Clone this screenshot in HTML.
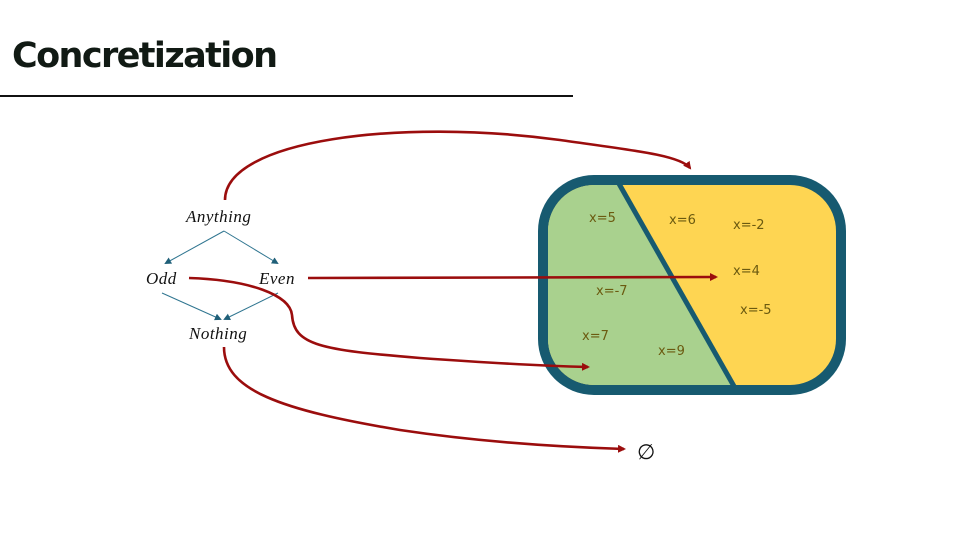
<!DOCTYPE html>
<html><head><meta charset="utf-8"><style>
html,body{margin:0;padding:0;background:#fff;width:960px;height:540px;overflow:hidden}
svg{display:block}
.t{font-family:"Liberation Serif",serif;font-style:italic;font-size:17px;fill:#111;letter-spacing:0.5px}
.v{font-family:"DejaVu Sans","Liberation Sans",sans-serif;font-size:13px;fill:#6b5a10}
</style></head><body>
<svg width="960" height="540" viewBox="0 0 960 540">
<defs>
<marker id="ra" markerWidth="8" markerHeight="8" refX="6" refY="4" orient="auto" markerUnits="userSpaceOnUse"><path d="M0,0 L8,4 L0,8 z" fill="#9b0d0d"/></marker>
<marker id="ba" markerWidth="7" markerHeight="7" refX="5" refY="3.5" orient="auto" markerUnits="userSpaceOnUse"><path d="M0,0 L7,3.5 L0,7 z" fill="#1f5f78"/></marker>
<clipPath id="inner"><rect x="548" y="185" width="288" height="200" rx="46"/></clipPath>
</defs>
<text x="12" y="67" font-family="DejaVu Sans, Liberation Sans, sans-serif" font-weight="bold" font-size="35" fill="#111a14" letter-spacing="-1.6">Concretization</text>
<rect x="0" y="95" width="573" height="2" fill="#111"/>

<rect x="538" y="175" width="308" height="220" rx="56" fill="#175a70"/>
<g clip-path="url(#inner)">
<rect x="548" y="185" width="288" height="200" fill="#fed552"/>
<polygon points="548,185 617,185 734,386 548,386" fill="#a9d18e"/>
<line x1="618" y1="182" x2="735" y2="388" stroke="#175a70" stroke-width="5"/>
</g>
<text class="v" x="589" y="222">x=5</text>
<text class="v" x="669" y="224">x=6</text>
<text class="v" x="733" y="229">x=-2</text>
<text class="v" x="733" y="275">x=4</text>
<text class="v" x="596" y="295">x=-7</text>
<text class="v" x="740" y="314">x=-5</text>
<text class="v" x="582" y="340">x=7</text>
<text class="v" x="658" y="355">x=9</text>

<text class="t" x="186" y="222">Anything</text>
<text class="t" x="146" y="284">Odd</text>
<text class="t" x="259" y="284">Even</text>
<text class="t" x="189" y="339">Nothing</text>

<g stroke="#2f7590" stroke-width="1" fill="none">
<line x1="224" y1="231" x2="166" y2="263" marker-end="url(#ba)"/>
<line x1="224" y1="231" x2="277" y2="263" marker-end="url(#ba)"/>
<line x1="162" y1="293" x2="220" y2="319" marker-end="url(#ba)"/>
<line x1="278" y1="293" x2="225" y2="319" marker-end="url(#ba)"/>
</g>

<g stroke="#9b0d0d" stroke-width="2.6" fill="none">
<path d="M225,200 C225,140 400,118 560,140 C630,150 680,155 690,168" marker-end="url(#ra)"/>
<path d="M308,278 L716,277" marker-end="url(#ra)"/>
<path d="M189,278 C250,280 290,295 292,315 C294,345 320,350 420,358 C490,363 550,366 588,367" marker-end="url(#ra)"/>
<path d="M224,347 C224,390 280,410 400,430 C480,442 560,447 624,449" marker-end="url(#ra)"/>
</g>
<text x="637" y="459" font-family="DejaVu Sans, sans-serif" font-size="21" fill="#111">∅</text>
</svg>
</body></html>
